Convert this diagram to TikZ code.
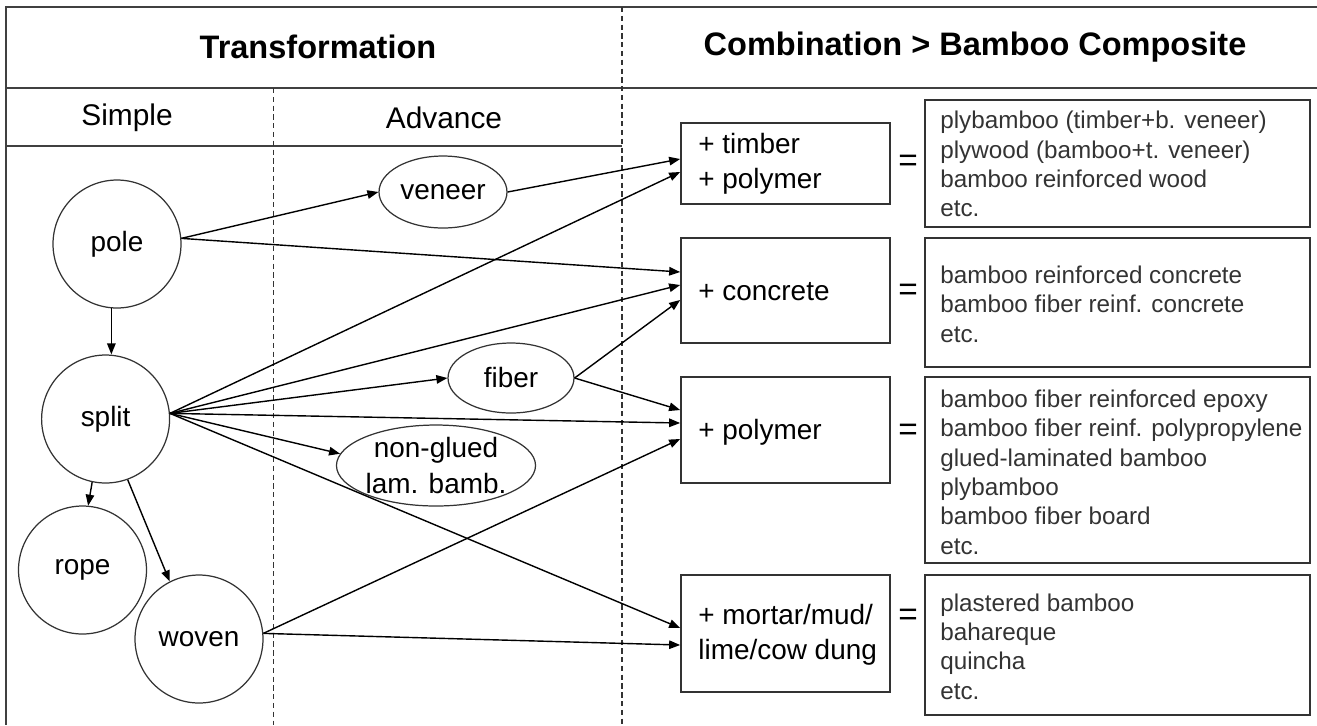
\documentclass[tikz,border=0pt]{standalone}
\usepackage{fontspec}
\setmainfont{Liberation Sans}
\usetikzlibrary{shapes.geometric,arrows.meta,calc}
\begin{document}
\begin{tikzpicture}[x=0.02cm,y=-0.02cm,
  frame/.style={draw=black!75, line width=1.1pt},
  sepline/.style={draw=black!80, line width=0.7pt, dash pattern=on 3pt off 2pt},
  circ/.style={circle, draw=black!80, line width=0.7pt, minimum size=2.56cm, inner sep=0pt, font=\fontsize{15.9}{19}\selectfont},
  ell/.style={ellipse, draw=black!80, line width=0.7pt, inner sep=0pt, font=\fontsize{15.9}{20}\selectfont, align=center},
  cbox/.style={rectangle, draw=black!80, line width=1pt, minimum width=4.18cm, inner sep=0pt},
  rbox/.style={rectangle, draw=black!80, line width=1pt, minimum width=7.7cm, inner sep=0pt},
  ctext/.style={anchor=west, align=left, inner sep=0pt, font=\fontsize{15.9}{19.8}\selectfont},
  rtext/.style={anchor=west, align=left, inner sep=0pt, text=black!80, font=\fontsize{13.8}{16.7}\selectfont},
  eq/.style={font=\fontsize{19}{22}\selectfont, inner sep=0pt},
  arr/.style={draw=black, line width=0.8pt, -{Triangle[length=0.22cm,width=0.17cm]}},
  hdr/.style={font=\bfseries\fontsize{18.5}{22}\selectfont},
  subhdr/.style={font=\fontsize{17}{20}\selectfont}]

\useasboundingbox (0,0) rectangle (1317,725);

% frame
\draw[frame] (1317,7) -- (6,7) -- (6,725);
\draw[frame] (6,88) -- (1317,88);
\draw[frame] (6,146) -- (622,146);
\draw[sepline] (273.5,88) -- (273.5,725);
\draw[sepline] (622,7) -- (622,725);

% headers
\node[hdr] (th) at (318,47) {Transformation};
\node[hdr] (ch) at (975,47) {Combination > Bamboo Composite};
\node[subhdr] (simple) at (127,118) {Simple};
\node[subhdr] (adv) at (444,118) {Advance};

% left column
\node[circ] (pole) at (117,244) {pole};
\node[circ] (split) at (105.6,419) {split};
\node[circ] (rope) at (82.5,570) {rope};
\node[circ] (woven) at (199,639) {woven};

% advance column
\node[ell, minimum width=2.56cm, minimum height=1.44cm] (veneer) at (443,192) {veneer};
\node[ell, minimum width=2.52cm, minimum height=1.40cm] (fiber) at (511,378) {fiber};
\node[ell, minimum width=3.72cm, minimum height=1.62cm] (nonglued) at (436,465.5) {non-glued\\lam. bamb.};

% combination boxes
\node[cbox, minimum height=1.62cm] (timber) at (785.5,163.5) {};
\node[ctext] (timbert) at (698,164) {+ timber\\+ polymer};
\node[cbox, minimum height=2.1cm] (concrete) at (785.5,290.5) {};
\node[ctext] (concretet) at (698,292) {+ concrete};
\node[cbox, minimum height=2.12cm] (polymer) at (785.5,430) {};
\node[ctext] (polymert) at (698,432) {+ polymer};
\node[cbox, minimum height=2.34cm] (mortar) at (785.5,633.5) {};
\node[ctext] (mortart) at (698,634.5) {+ mortar/mud/\\lime/cow dung};

% equals
\node[eq] (eq1) at (908,163) {=};
\node[eq] (eq2) at (908,292) {=};
\node[eq] (eq3) at (908,432) {=};
\node[eq] (eq4) at (908,617) {=};

% result boxes
\node[rbox, minimum height=2.54cm] (r1) at (1117.5,163.5) {};
\node[rtext] (r1t) at (940,164) {plybamboo (timber+b. veneer)\\plywood (bamboo+t. veneer)\\bamboo reinforced wood\\etc.};
\node[rbox, minimum height=2.58cm] (r2) at (1117.5,302.5) {};
\node[rtext] (r2t) at (940,304) {bamboo reinforced concrete\\bamboo fiber reinf. concrete\\etc.};
\node[rbox, minimum height=3.72cm] (r3) at (1117.5,470) {};
\node[rtext] (r3t) at (940,472) {bamboo fiber reinforced epoxy\\bamboo fiber reinf. polypropylene\\glued-laminated bamboo\\plybamboo\\bamboo fiber board\\etc.};
\node[rbox, minimum height=2.8cm] (r4) at (1117.5,645) {};
\node[rtext] (r4t) at (940,646.5) {plastered bamboo\\bahareque\\quincha\\etc.};

% connectors
\draw[arr] (pole.5) -- (veneer.west);
\draw[arr] (pole.5) -- ($(concrete.west)+(0,-18.5)$);
\draw[arr] (pole.265) -- (pole.265 |- split.north);
\draw[arr] (veneer.east) -- ($(timber.west)+(0,-4.5)$);
\draw[arr] (split.5) -- ($(timber.west)+(0,8.5)$);
\draw[arr] (split.5) -- ($(concrete.west)+(0,-5.5)$);
\draw[arr] (split.5) -- (fiber.west);
\draw[arr] (split.5) -- ($(polymer.west)+(0,-7)$);
\draw[arr] (split.5) -- (nonglued.173);
\draw[arr] (split.5) -- ($(mortar.west)+(0,-5.5)$);
\draw[arr] (split.258) -- (rope.85);
\draw[arr] (split.290) -- (woven.117);
\draw[arr] (fiber.east) -- ($(concrete.west)+(0,9.5)$);
\draw[arr] (fiber.east) -- ($(polymer.west)+(0,-20)$);
\draw[arr] (woven.5) -- ($(polymer.west)+(0,9)$);
\draw[arr] (woven.5) -- ($(mortar.west)+(0,11.5)$);
\end{tikzpicture}
\end{document}
